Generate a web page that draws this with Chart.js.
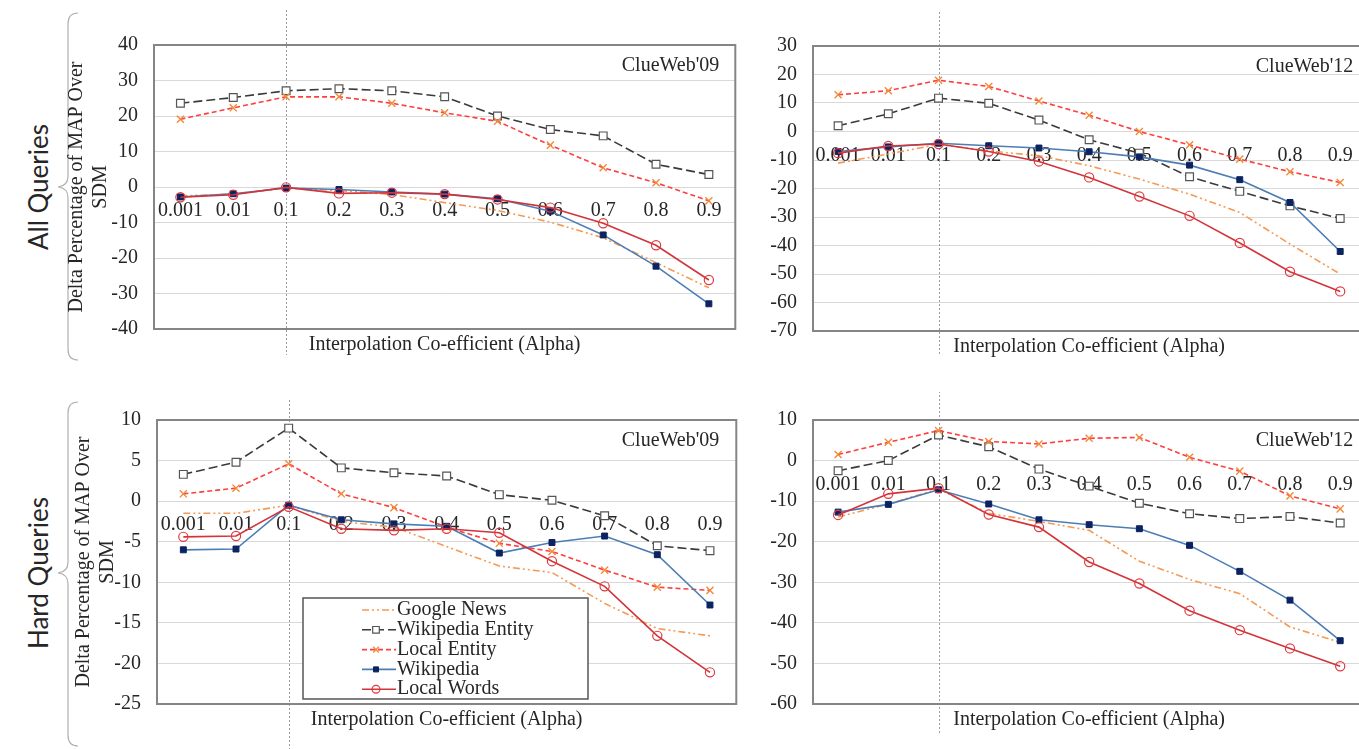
<!DOCTYPE html>
<html>
<head>
<meta charset="utf-8">
<title>Delta Percentage of MAP Over SDM</title>
<script src="https://cdn.jsdelivr.net/npm/chart.js@4.4.1/dist/chart.umd.min.js"></script>
<style>
  html, body { margin: 0; padding: 0; background: #fff; }
  body { position: relative; width: 1359px; height: 749px; overflow: hidden; }
  canvas { position: absolute; }
  .group {
    position: absolute;
    font-family: Lato, "Open Sans", sans-serif;
    font-size: 26px;
    color: #262626;
    white-space: nowrap;
    transform: translate(-50%, -50%) rotate(-90deg);
  }
  svg { position: absolute; left: 0; top: 0; }
</style>
</head>
<body>
<div class="group" style="left:38px; top:187px;">All Queries</div>
<div class="group" style="left:38px; top:573px;">Hard Queries</div>
<svg width="100" height="749">
  <path d="M78 13 Q68 13 68 24 L68 176 Q68 186 58 187 Q68 188 68 198 L68 349 Q68 360 78 360" fill="none" stroke="#b0b0b0" stroke-width="1.2"/>
  <path d="M78 402 Q68 402 68 413 L68 562 Q68 572 58 573 Q68 574 68 584 L68 735 Q68 746 78 746" fill="none" stroke="#b0b0b0" stroke-width="1.2"/>
</svg>

<canvas id="allCw09" width="702" height="357" style="left:40px; top:5px;"></canvas>
<canvas id="allCw12" width="612" height="357" style="left:760px; top:5px;"></canvas>
<canvas id="hardCw09" width="703" height="357" style="left:40px; top:392px;"></canvas>
<canvas id="hardCw12" width="612" height="357" style="left:760px; top:392px;"></canvas>

<script>
// Interpolation co-efficient values (x categories)
const alphaLabels = ['0.001', '0.01', '0.1', '0.2', '0.3', '0.4', '0.5', '0.6', '0.7', '0.8', '0.9'];
const seriesNames = ['Google News', 'Wikipedia Entity', 'Local Entity', 'Wikipedia', 'Local Words'];

// All queries, ClueWeb'09
const allCw09GoogleNews   = [-2.5, -2.0, -0.3, -1.0, -2.1, -4.4, -6.6, -9.9, -14.3, -21.3, -28.4];
const allCw09WikiEntity   = [23.6, 25.2, 27.1, 27.7, 27.1, 25.4, 20.0, 16.2, 14.4, 6.4, 3.5];
const allCw09LocalEntity  = [19.1, 22.3, 25.4, 25.4, 23.6, 20.9, 18.5, 11.8, 5.4, 1.2, -3.9];
const allCw09Wikipedia    = [-2.8, -1.9, -0.3, -0.7, -1.4, -2.0, -3.3, -6.8, -13.5, -22.3, -32.9];
const allCw09LocalWords   = [-2.9, -2.2, -0.1, -1.8, -1.6, -2.0, -3.5, -5.8, -10.2, -16.4, -26.2];

// All queries, ClueWeb'12
const allCw12GoogleNews   = [-11.1, -7.9, -4.5, -6.8, -8.5, -12.0, -16.7, -22.0, -28.4, -39.5, -50.0];
const allCw12WikiEntity   = [2.0, 6.2, 11.7, 9.9, 4.0, -2.9, -7.6, -15.9, -21.0, -26.1, -30.5];
const allCw12LocalEntity  = [12.9, 14.3, 18.0, 15.8, 10.7, 5.7, 0.0, -4.7, -9.7, -14.1, -17.9];
const allCw12Wikipedia    = [-7.0, -5.4, -4.1, -5.0, -5.8, -7.1, -8.9, -11.8, -16.9, -24.9, -42.1];
const allCw12LocalWords   = [-7.6, -5.1, -4.4, -7.0, -10.5, -16.1, -22.8, -29.6, -39.1, -49.2, -56.1];

// Hard queries, ClueWeb'09
const hardCw09GoogleNews  = [-1.5, -1.5, -0.5, -2.5, -3.2, -5.6, -8.0, -8.8, -12.6, -15.7, -16.6];
const hardCw09WikiEntity  = [3.3, 4.8, 9.0, 4.1, 3.5, 3.1, 0.8, 0.1, -1.8, -5.5, -6.1];
const hardCw09LocalEntity = [0.9, 1.6, 4.6, 0.9, -0.8, -3.2, -5.2, -6.2, -8.5, -10.6, -11.0];
const hardCw09Wikipedia   = [-6.0, -5.9, -0.5, -2.3, -2.8, -3.1, -6.4, -5.1, -4.3, -6.6, -12.8];
const hardCw09LocalWords  = [-4.4, -4.3, -0.7, -3.4, -3.6, -3.4, -3.9, -7.4, -10.5, -16.6, -21.1];

// Hard queries, ClueWeb'12
const hardCw12GoogleNews  = [-13.9, -10.7, -7.0, -13.0, -15.0, -17.2, -24.8, -29.3, -32.8, -41.0, -44.8];
const hardCw12WikiEntity  = [-2.5, 0.0, 6.3, 3.4, -2.1, -6.3, -10.5, -13.1, -14.3, -13.8, -15.4];
const hardCw12LocalEntity = [1.5, 4.5, 7.4, 4.7, 4.1, 5.5, 5.7, 0.8, -2.6, -8.7, -11.9];
const hardCw12Wikipedia   = [-12.7, -10.8, -7.2, -10.7, -14.6, -15.8, -16.8, -20.9, -27.3, -34.4, -44.4];
const hardCw12LocalWords  = [-13.4, -8.2, -6.8, -13.3, -16.4, -25.0, -30.3, -37.0, -41.8, -46.3, -50.7];

const TEXT = '#262626';
const SERIF = "'Liberation Serif', 'Times New Roman', serif";
Chart.defaults.font.family = SERIF;
Chart.defaults.font.size = 20;
Chart.defaults.color = TEXT;

// Line / marker look of each series
const seriesStyle = {
  'Google News':      { borderColor: '#F59A55', borderDash: [7, 3, 2, 3, 2, 3], pointRadius: 0, pointStyle: false },
  'Wikipedia Entity': { borderColor: '#3a3a3a', borderDash: [9, 4], pointStyle: 'rect', pointRadius: 5.5,
                        pointBackgroundColor: '#ffffff', pointBorderColor: '#555555', pointBorderWidth: 1.2 },
  'Local Entity':     { borderColor: '#FF3E3E', borderDash: [5, 3], pointStyle: 'crossRot', pointRadius: 5,
                        pointBackgroundColor: '#F28A3C', pointBorderColor: '#F28A3C', pointBorderWidth: 1.4 },
  'Wikipedia':        { borderColor: '#4C7DB5', borderDash: [], pointStyle: 'rect', pointRadius: 4.2,
                        pointBackgroundColor: '#0B2361', pointBorderColor: '#0B2361', pointBorderWidth: 1 },
  'Local Words':      { borderColor: '#D2343A', borderDash: [], pointStyle: 'circle', pointRadius: 4.6,
                        pointBackgroundColor: 'rgba(0,0,0,0)', pointBorderColor: '#E0393E', pointBorderWidth: 1.2 }
};

function buildDatasets(valueLists) {
  return seriesNames.map((name, i) => Object.assign({
    label: name,
    data: valueLists[i],
    borderWidth: 1.6,
    tension: 0,
    fill: false,
    order: seriesNames.length - i
  }, seriesStyle[name]));
}

// Marker drawing for the legend samples
function drawMarker(ctx, ds, x, y) {
  const r = ds.pointRadius || 0;
  if (!ds.pointStyle || r === 0) return;
  ctx.save();
  ctx.setLineDash([]);
  ctx.lineWidth = ds.pointBorderWidth || 1;
  ctx.strokeStyle = ds.pointBorderColor;
  ctx.fillStyle = ds.pointBackgroundColor;
  ctx.beginPath();
  if (ds.pointStyle === 'rect') {
    const s = r * Math.SQRT1_2 * 0.85;
    ctx.rect(x - s, y - s, 2 * s, 2 * s);
    ctx.fill(); ctx.stroke();
  } else if (ds.pointStyle === 'circle') {
    ctx.arc(x, y, r * 0.85, 0, Math.PI * 2);
    ctx.fill(); ctx.stroke();
  } else if (ds.pointStyle === 'crossRot') {
    const s = r * 0.8 * Math.SQRT1_2;
    ctx.moveTo(x - s, y - s); ctx.lineTo(x + s, y + s);
    ctx.moveTo(x + s, y - s); ctx.lineTo(x - s, y + s);
    ctx.stroke();
  }
  ctx.restore();
}

// Guide line at alpha = 0.1, plot frame, corpus label, x title and legend
const panelDecor = {
  id: 'panelDecor',
  beforeDatasetsDraw(chart, args, opts) {
    const { ctx, chartArea: a } = chart;
    const gx = Math.round(chart.scales.x.getPixelForValue(opts.guideIndex)) + 0.5;
    ctx.save();
    ctx.strokeStyle = '#9c9c9c';
    ctx.lineWidth = 1;
    ctx.setLineDash([2, 2]);
    ctx.beginPath();
    ctx.moveTo(gx, a.top - opts.guideAbove);
    ctx.lineTo(gx, a.bottom + opts.guideBelow);
    ctx.stroke();
    ctx.restore();
  },
  afterDatasetsDraw(chart, args, opts) {
    const { ctx, chartArea: a } = chart;
    ctx.save();
    ctx.strokeStyle = '#858585';
    ctx.lineWidth = 2;
    ctx.strokeRect(a.left, a.top, a.right - a.left, a.bottom - a.top);

    ctx.fillStyle = TEXT;
    ctx.font = '20px ' + SERIF;
    ctx.textBaseline = 'middle';
    ctx.textAlign = 'right';
    ctx.fillText(opts.corpus, a.right - opts.corpusInset, a.top + 21);
    ctx.textAlign = 'center';
    ctx.fillText('Interpolation Co-efficient (Alpha)', (a.left + a.right) / 2, a.bottom + 16);

    if (opts.legend) {
      const bx = a.left + 146, by = a.top + 178, bw = 285, bh = 101;
      ctx.fillStyle = '#ffffff';
      ctx.fillRect(bx, by, bw, bh);
      ctx.strokeStyle = '#555555';
      ctx.lineWidth = 1.5;
      ctx.strokeRect(bx, by, bw, bh);
      chart.data.datasets.forEach((ds, i) => {
        const y = by + 12 + i * 19.8;
        ctx.save();
        ctx.strokeStyle = ds.borderColor;
        ctx.lineWidth = ds.borderWidth;
        ctx.setLineDash(ds.borderDash || []);
        ctx.beginPath();
        ctx.moveTo(bx + 59, y);
        ctx.lineTo(bx + 93, y);
        ctx.stroke();
        ctx.restore();
        drawMarker(ctx, ds, bx + 73, y);
        ctx.fillStyle = TEXT;
        ctx.textAlign = 'left';
        ctx.textBaseline = 'middle';
        ctx.fillText(ds.label, bx + 94, y);
      });
    }
    ctx.restore();
  }
};

function makePanel(id, cfg) {
  const yAxis = {
    min: cfg.yMin,
    max: cfg.yMax,
    ticks: { stepSize: cfg.yStep, padding: 16, color: TEXT },
    grid: { color: '#d9d9d9', lineWidth: 1, drawTicks: false },
    border: { display: false },
    afterFit(scale) { scale.width = cfg.yWidth; }
  };
  if (cfg.yTitlePad !== undefined) {
    yAxis.title = {
      display: true,
      text: ['Delta Percentage of MAP Over', 'SDM'],
      color: TEXT,
      font: { size: 20 },
      padding: { top: cfg.yTitlePad, bottom: 0 }
    };
  }
  return new Chart(document.getElementById(id), {
    type: 'line',
    data: { labels: alphaLabels, datasets: buildDatasets(cfg.values) },
    options: {
      responsive: false,
      animation: false,
      devicePixelRatio: 1,
      layout: { padding: cfg.padding },
      plugins: {
        legend: { display: false },
        tooltip: { enabled: false },
        panelDecor: {
          corpus: cfg.corpus,
          corpusInset: cfg.corpusInset,
          guideIndex: 2,
          guideAbove: cfg.guideAbove,
          guideBelow: cfg.guideBelow,
          legend: !!cfg.legend
        }
      },
      scales: {
        x: {
          type: 'category',
          position: { y: 0 },
          offset: true,
          grid: { display: false, drawTicks: false },
          border: { display: false },
          ticks: { padding: 12, autoSkip: false, maxRotation: 0, color: TEXT }
        },
        y: yAxis
      }
    },
    plugins: [panelDecor]
  });
}

makePanel('allCw09', {
  values: [allCw09GoogleNews, allCw09WikiEntity, allCw09LocalEntity, allCw09Wikipedia, allCw09LocalWords],
  yMin: -40, yMax: 40, yStep: 10, yWidth: 114, yTitlePad: 25,
  padding: { top: 40, right: 4, bottom: 33, left: 0 },
  corpus: "ClueWeb'09", corpusInset: 16, guideAbove: 35, guideBelow: 26
});

makePanel('allCw12', {
  values: [allCw12GoogleNews, allCw12WikiEntity, allCw12LocalEntity, allCw12Wikipedia, allCw12LocalWords],
  yMin: -70, yMax: 30, yStep: 10, yWidth: 53,
  padding: { top: 41, right: 4, bottom: 31, left: 0 },
  corpus: "ClueWeb'12", corpusInset: 12, guideAbove: 34, guideBelow: 24
});

makePanel('hardCw09', {
  values: [hardCw09GoogleNews, hardCw09WikiEntity, hardCw09LocalEntity, hardCw09Wikipedia, hardCw09LocalWords],
  yMin: -25, yMax: 10, yStep: 5, yWidth: 117, yTitlePad: 32,
  padding: { top: 27, right: 4, bottom: 45, left: 0 },
  corpus: "ClueWeb'09", corpusInset: 17, guideAbove: 20, guideBelow: 45,
  legend: true
});

makePanel('hardCw12', {
  values: [hardCw12GoogleNews, hardCw12WikiEntity, hardCw12LocalEntity, hardCw12Wikipedia, hardCw12LocalWords],
  yMin: -60, yMax: 10, yStep: 10, yWidth: 53,
  padding: { top: 27, right: 4, bottom: 45, left: 0 },
  corpus: "ClueWeb'12", corpusInset: 12, guideAbove: 29, guideBelow: 30
});
</script>
</body>
</html>
